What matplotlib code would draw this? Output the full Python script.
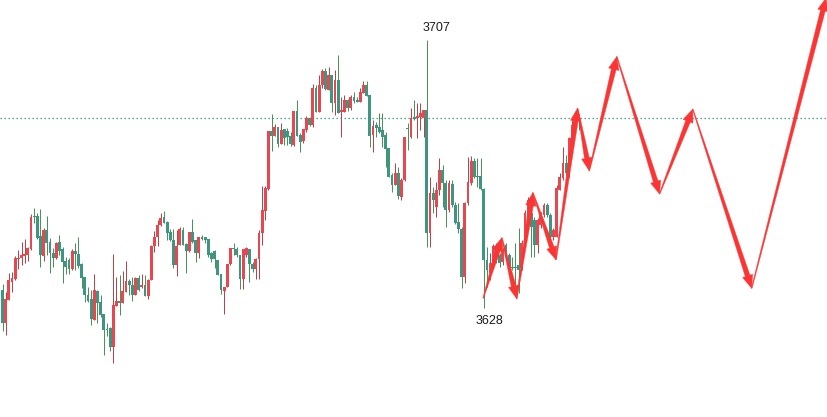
import numpy as np
import matplotlib
matplotlib.use("Agg")
import matplotlib.pyplot as plt
from matplotlib.patches import Polygon
from matplotlib.transforms import IdentityTransform

opens = [3633.3,3623.6,3630.4,3635.7,3636.6,3642.4,3642.7,3643.3,3643.6,3645.4,
3655.1,3655.1,3649.2,3643.3,3651.0,3647.5,3644.2,3642.7,3647.5,3645.4,
3641.9,3642.2,3639.5,3644.8,3643.9,3641.0,3637.1,3631.8,3630.7,3624.5,
3633.0,3629.8,3626.2,3621.8,3622.1,3616.5,3628.6,3630.1,3629.5,3632.7,
3636.0,3634.8,3631.8,3636.8,3634.2,3634.8,3631.5,3636.3,3646.3,3648.9,
3652.5,3654.8,3653.4,3650.4,3648.0,3640.7,3646.6,3651.0,3646.9,3644.8,
3650.4,3648.0,3644.2,3648.9,3648.9,3648.3,3644.2,3644.8,3642.2,3638.0,
3633.0,3634.2,3641.0,3645.7,3645.4,3643.6,3636.6,3643.6,3645.4,3641.0,
3639.5,3642.4,3650.1,3656.6,3663.1,3680.2,3678.7,3681.4,3676.3,3680.8,
3680.2,3678.7,3676.1,3686.1,3679.0,3677.2,3680.5,3684.0,3681.9,3692.9,
3685.8,3693.7,3697.9,3692.3,3696.7,3688.4,3695.2,3685.8,3685.8,3689.3,
3687.0,3690.2,3689.3,3688.7,3691.4,3693.7,3690.8,3679.0,3681.9,3681.4,
3680.5,3679.0,3675.2,3667.2,3664.3,3667.8,3660.7,3665.7,3681.1,3678.4,
3684.3,3684.0,3684.3,3684.0,3686.4,3650.1,3661.9,3657.8,3662.8,3668.7,
3664.9,3656.9,3664.6,3658.4,3653.4,3651.3,3637.1,3659.0,3664.9,3671.3,
3666.9,3666.9,3663.1,3642.2,3638.3,3641.3,3646.0,3643.6,3641.6,3646.6,
3643.6,3640.1,3640.1,3640.7,3639.8,3647.2,3654.5,3656.0,3653.9,3646.6,
3652.5,3655.4,3658.4,3655.4,3648.9,3648.9,3662.8,3666.3,3670.7,3670.7,
3677.5,3681.9,3684.0]

highs = [3635.1,3632.7,3638.3,3638.6,3643.3,3645.1,3647.5,3648.3,3646.0,3655.7,
3657.5,3656.0,3657.2,3651.6,3655.1,3648.6,3645.7,3647.5,3649.5,3646.0,
3643.0,3642.7,3645.4,3647.2,3648.9,3641.3,3637.1,3634.2,3633.3,3638.0,
3633.3,3631.8,3626.2,3623.6,3622.4,3643.9,3637.1,3637.7,3638.9,3641.9,
3636.6,3637.1,3637.1,3637.7,3638.0,3637.7,3636.6,3646.6,3650.7,3653.9,
3656.0,3656.6,3653.6,3651.3,3651.3,3651.0,3651.9,3651.9,3647.2,3650.4,
3654.2,3648.0,3648.9,3649.5,3648.9,3648.3,3644.5,3645.1,3642.2,3638.0,
3634.2,3641.0,3645.7,3647.2,3646.0,3643.6,3645.4,3646.0,3645.4,3641.6,
3642.7,3651.0,3664.0,3664.0,3680.2,3685.2,3682.2,3681.4,3682.5,3680.8,
3681.1,3679.9,3686.1,3689.3,3679.6,3680.8,3684.6,3684.3,3694.0,3693.7,
3696.7,3698.5,3698.8,3699.0,3696.7,3698.2,3702.6,3690.2,3690.8,3689.6,
3690.8,3691.7,3690.2,3692.9,3694.9,3694.9,3690.8,3683.4,3682.8,3685.5,
3685.5,3679.9,3675.2,3667.8,3670.7,3669.6,3666.3,3678.4,3682.5,3687.0,
3689.3,3688.4,3688.4,3686.4,3707.0,3666.6,3663.7,3665.1,3672.2,3670.2,
3665.7,3665.7,3665.7,3659.3,3659.0,3651.9,3659.3,3672.5,3672.8,3672.2,
3672.2,3672.2,3663.4,3646.0,3644.2,3646.9,3647.2,3644.2,3645.7,3647.2,
3644.2,3643.0,3647.2,3651.6,3648.0,3656.9,3660.7,3656.9,3654.8,3654.5,
3656.3,3659.0,3659.0,3656.0,3651.6,3664.3,3667.8,3675.5,3673.1,3678.4,
3683.4,3684.3,3684.0]

lows = [3621.2,3620.0,3630.4,3632.7,3636.3,3639.5,3640.7,3641.3,3641.9,3645.1,
3653.1,3648.3,3640.1,3641.9,3643.6,3638.3,3640.1,3642.4,3643.6,3635.4,
3638.0,3638.0,3639.2,3639.2,3639.8,3633.9,3629.8,3629.8,3623.0,3624.5,
3623.6,3625.3,3614.1,3619.7,3615.3,3611.8,3628.6,3625.9,3629.5,3632.7,
3631.8,3630.1,3631.8,3633.0,3633.9,3631.5,3630.7,3636.3,3644.5,3646.3,
3652.2,3653.1,3648.0,3647.8,3639.8,3637.4,3646.6,3646.6,3638.3,3644.5,
3647.2,3641.6,3642.7,3648.0,3647.2,3643.0,3641.6,3639.8,3637.7,3632.1,
3626.2,3634.2,3640.7,3643.6,3643.0,3633.6,3633.6,3643.0,3635.7,3638.6,
3636.6,3636.6,3646.6,3653.9,3662.8,3674.3,3678.7,3675.5,3676.3,3676.1,
3676.1,3675.8,3675.8,3678.7,3674.0,3676.6,3679.9,3681.7,3681.4,3685.8,
3685.8,3692.9,3692.3,3692.3,3685.8,3684.9,3685.5,3678.4,3685.8,3686.1,
3686.4,3688.4,3688.7,3688.7,3691.4,3690.5,3675.5,3674.0,3678.4,3679.6,
3675.5,3669.6,3666.6,3662.2,3664.3,3660.1,3659.8,3665.4,3674.6,3678.1,
3683.4,3678.1,3680.5,3678.4,3646.0,3646.0,3656.0,3654.8,3661.3,3657.8,
3651.9,3656.3,3657.8,3652.8,3650.1,3633.9,3635.4,3658.4,3664.3,3666.3,
3663.7,3662.8,3628.0,3634.2,3636.3,3640.7,3641.3,3640.1,3640.7,3642.2,
3639.2,3639.2,3634.2,3632.4,3639.2,3647.2,3653.9,3643.0,3643.0,3644.2,
3651.6,3654.8,3654.8,3648.0,3648.0,3648.9,3662.8,3665.7,3667.2,3666.6,
3677.5,3681.7,3680.5]

closes = [3623.6,3630.7,3636.3,3636.8,3642.7,3642.7,3643.6,3643.9,3645.7,3654.8,
3654.8,3648.6,3643.6,3651.0,3647.2,3644.2,3642.7,3647.2,3644.8,3641.6,
3640.1,3639.5,3644.8,3643.9,3640.4,3636.8,3631.8,3630.1,3624.8,3633.3,
3629.5,3625.9,3621.5,3621.5,3616.5,3628.9,3630.1,3629.5,3633.0,3636.0,
3634.8,3631.8,3636.8,3633.3,3634.8,3631.5,3636.3,3646.3,3648.9,3652.5,
3654.5,3653.1,3650.1,3648.0,3640.7,3646.3,3651.3,3646.6,3644.8,3650.4,
3647.5,3644.2,3648.9,3648.3,3648.0,3643.6,3642.4,3642.4,3637.7,3633.3,
3634.2,3641.0,3645.7,3645.4,3643.6,3636.6,3645.4,3645.7,3641.0,3639.5,
3642.4,3650.1,3656.9,3663.4,3680.2,3678.7,3681.4,3676.3,3680.5,3678.1,
3678.4,3676.3,3686.1,3678.7,3676.9,3680.8,3684.0,3681.9,3692.9,3685.8,
3693.7,3697.9,3692.6,3696.7,3688.4,3695.2,3685.5,3686.4,3689.3,3687.0,
3690.2,3689.0,3688.7,3691.7,3693.7,3690.5,3678.7,3681.7,3681.1,3679.9,
3678.4,3674.9,3666.6,3664.3,3667.8,3661.0,3665.7,3678.4,3680.8,3684.0,
3683.7,3684.6,3685.5,3686.4,3650.1,3661.9,3659.8,3662.8,3668.7,3664.9,
3656.9,3664.9,3658.4,3653.1,3651.3,3637.1,3659.0,3665.1,3671.3,3666.6,
3666.6,3663.1,3642.2,3639.2,3641.3,3646.3,3644.5,3641.3,3645.1,3643.0,
3640.1,3639.8,3639.8,3639.2,3647.2,3656.0,3659.8,3651.9,3646.6,3653.9,
3655.4,3658.4,3655.4,3648.9,3651.0,3663.4,3666.6,3670.7,3667.8,3678.1,
3681.9,3684.0,3683.4]

# forecast arrow path (bar index, price)
arrow_x = [151.8, 157.7, 162.4, 167.5, 174.8, 181.6, 185.3, 194.0, 207.5, 218.0, 236.6, 260.1]
arrow_y = [3630.9, 3648.7, 3630.7, 3662.0, 3642.2, 3686.9, 3668.4, 3702.1, 3661.6, 3686.6, 3633.8, 3719.4]

ref_level = 3684.0
high_label = "3707"
low_label = "3628"
high_idx, high_val = 134, 3707.0
low_idx, low_val = 152, 3628.0

UP_BODY = "#e8474f"
UP_WICK = "#b8434c"
DN_BODY = "#3f9680"
DN_WICK = "#4a9356"
ARROW = "#fb3434"

W, H, DPI = 828, 417, 100
fig = plt.figure(figsize=(W / DPI, H / DPI), dpi=DPI)
fig.patch.set_facecolor("white")
ax = fig.add_axes([0, 0, 1, 1])
ax.set_facecolor("white")
ax.axis("off")
ax.set_xlim(-0.79, 260.7)
ax.set_ylim(3595.85, 3718.79)

o = np.array(opens); h = np.array(highs); l = np.array(lows); c = np.array(closes)
x = np.arange(len(o))
up = c >= o

ax.axhline(ref_level, color="#2f9a7f", lw=0.9, linestyle=(0, (1.1, 2.1)), zorder=1)

ax.vlines(x[up], l[up], h[up], color=UP_WICK, lw=0.72, zorder=2)
ax.vlines(x[~up], l[~up], h[~up], color=DN_WICK, lw=0.72, zorder=2)
bottom = np.minimum(o, c)
height = np.maximum(np.abs(c - o), 0.35)
ax.bar(x[up], height[up], bottom=bottom[up], width=0.9, color=UP_BODY, lw=0, zorder=3)
ax.bar(x[~up], height[~up], bottom=bottom[~up], width=0.9, color=DN_BODY, lw=0, zorder=3)

# tapered arrows
fig.canvas.draw()
pts = ax.transData.transform(np.column_stack([arrow_x, arrow_y]))
for (x0, y0), (x1, y1) in zip(pts[:-1], pts[1:]):
    d = np.array([x1 - x0, y1 - y0]); L = np.hypot(*d); u = d / L
    n = np.array([-u[1], u[0]])
    head_len, head_w, w_tail, w_end = 13.0, 10.5, 0.7, 4.8
    p0 = np.array([x0, y0]); p1 = np.array([x1, y1])
    base = p1 - u * head_len
    verts = [p0 + n * w_tail / 2, base + n * w_end / 2, base + n * head_w / 2, p1,
             base - n * head_w / 2, base - n * w_end / 2, p0 - n * w_tail / 2]
    ax.add_patch(Polygon(verts, closed=True, transform=IdentityTransform(),
                         facecolor=ARROW, edgecolor=ARROW, lw=0.3, zorder=5))

ax.annotate(high_label, (high_idx, high_val), xytext=(9.5, 11.5), textcoords="offset pixels",
            ha="center", va="center", fontsize=9, color="#1a1a1a", family="Liberation Sans")
ax.annotate(low_label, (low_idx, low_val), xytext=(6, -13), textcoords="offset pixels",
            ha="center", va="center", fontsize=9, color="#1a1a1a", family="Liberation Sans")

fig.savefig("out.png", dpi=DPI, facecolor="white")
